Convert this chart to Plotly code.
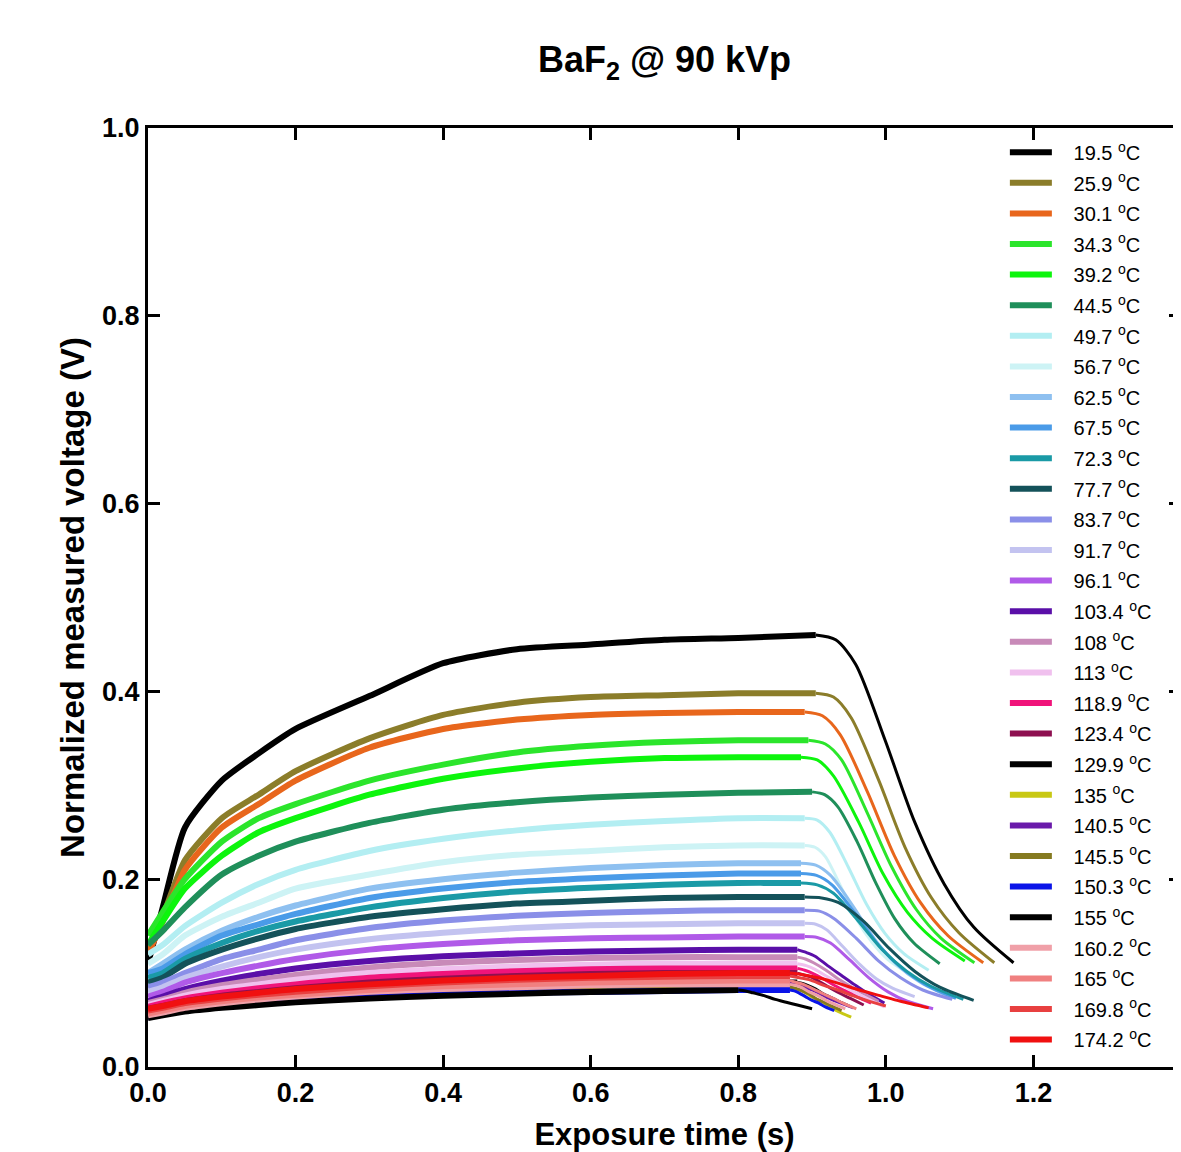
import plotly.graph_objects as go

# sample times for the noisy (exposure) part, shared by all curves
t_rise = [0, 0.02, 0.05, 0.1, 0.15, 0.2, 0.3, 0.4, 0.5, 0.6, 0.7, 0.8]

temps = ["19.5", "25.9", "30.1", "34.3", "39.2", "44.5", "49.7", "56.7", "62.5", "67.5",
         "72.3", "77.7", "83.7", "91.7", "96.1", "103.4", "108", "113", "118.9", "123.4",
         "129.9", "135", "140.5", "145.5", "150.3", "155", "160.2", "165", "169.8", "174.2"]

colors = ["#000000", "#8B7D2A", "#E8661C", "#2BE52B", "#0DF50D", "#1F8F5A", "#B3EEF2", "#CDF3F5",
          "#8EC0F0", "#4A9BE8", "#1A9AA6", "#14525A", "#8A8FE8", "#C3C3F0", "#B05AE8", "#5A0FA8",
          "#C88AB8", "#F0C0EE", "#F0147A", "#8E1050", "#000000", "#C8C814", "#6A1AAA", "#857A20",
          "#0A14E8", "#000000", "#F0A0A8", "#F08080", "#E84040", "#F01010"]

# voltage at t_rise for each temperature
rise = [
    [.11, .17, .255, .305, .334, .36, .395, .43, .445, .45, .455, .457],   # 19.5
    [.12, .16, .22, .265, .29, .315, .35, .375, .388, .394, .396, .398],   # 25.9
    [.12, .155, .21, .255, .28, .305, .34, .36, .37, .375, .377, .378],    # 30.1
    [.14, .165, .2, .24, .265, .28, .305, .322, .335, .342, .346, .348],   # 34.3
    [.13, .155, .19, .225, .25, .265, .29, .307, .318, .325, .329, .33],   # 39.2
    [.13, .145, .17, .205, .225, .24, .26, .274, .282, .287, .29, .292],   # 44.5
    [.12, .13, .15, .175, .195, .21, .23, .243, .252, .258, .262, .265],   # 49.7
    [.11, .12, .14, .16, .175, .19, .205, .218, .226, .23, .234, .236],    # 56.7
    [.1, .11, .125, .145, .16, .172, .19, .2, .207, .212, .215, .217],     # 62.5
    [.1, .105, .12, .14, .152, .163, .18, .19, .197, .201, .204, .206],    # 67.5
    [.095, .1, .115, .132, .145, .155, .17, .18, .187, .191, .194, .196],  # 72.3
    [.09, .095, .11, .125, .137, .147, .16, .168, .174, .177, .18, .181],  # 77.7
    [.085, .09, .1, .115, .125, .135, .148, .156, .161, .164, .166, .167], # 83.7
    [.08, .085, .095, .107, .117, .125, .136, .143, .148, .151, .152, .153],  # 91.7
    [.075, .08, .09, .1, .108, .115, .125, .131, .135, .137, .138, .139],  # 96.1
    [.07, .075, .083, .092, .099, .105, .113, .118, .121, .123, .124, .125],  # 103.4
    [.068, .072, .079, .087, .093, .098, .106, .111, .114, .116, .117, .117],  # 108
    [.066, .07, .076, .083, .088, .093, .1, .104, .107, .109, .11, .11],   # 113
    [.064, .068, .073, .079, .084, .088, .095, .099, .102, .104, .105, .105],  # 118.9
    [.062, .065, .07, .076, .08, .084, .09, .094, .097, .099, .1, .1],     # 123.4
    [.058, .06, .064, .068, .072, .075, .08, .083, .086, .088, .089, .09], # 129.9
    [.055, .058, .062, .066, .07, .073, .077, .08, .082, .084, .085, .085],  # 135
    [.057, .06, .064, .069, .073, .076, .081, .085, .087, .089, .09, .09], # 140.5
    [.055, .058, .062, .066, .07, .073, .078, .081, .083, .084, .085, .085],  # 145.5
    [.053, .056, .06, .064, .067, .07, .074, .077, .079, .08, .081, .082], # 150.3
    [.052, .055, .059, .063, .066, .069, .073, .076, .078, .08, .081, .082],  # 155
    [.055, .058, .063, .068, .072, .075, .08, .083, .085, .087, .088, .088],  # 160.2
    [.057, .06, .065, .07, .074, .077, .082, .086, .088, .09, .091, .092], # 165
    [.06, .063, .068, .073, .077, .08, .086, .09, .093, .095, .096, .097], # 169.8
    [.062, .065, .07, .075, .079, .083, .088, .092, .095, .097, .099, .10],  # 174.2
]

# decay after the beam switches off
tail_t = [
    [.905, .932, .959, .999, 1.039, 1.079, 1.119, 1.173],
    [.905, .929, .953, .990, 1.026, 1.062, 1.099, 1.147],
    [.89, .914, .938, .975, 1.011, 1.047, 1.084, 1.132],
    [.895, .918, .94, .974, 1.008, 1.041, 1.075, 1.12],
    [.885, .907, .929, .963, .996, 1.029, 1.063, 1.107],
    [.9, .917, .935, .961, .987, 1.012, 1.038, 1.073],
    [.89, .907, .924, .949, .974, .999, 1.024, 1.058],
    [.89, .904, .918, .939, .96, .981, 1.002, 1.03],
    [.885, .905, .925, .955, .985, 1.015, 1.045, 1.085],
    [.885, .906, .927, .959, .99, 1.022, 1.053, 1.095],
    [.885, .907, .929, .962, .995, 1.028, 1.061, 1.105],
    [.89, .913, .936, .97, 1.005, 1.039, 1.073, 1.119],
    [.89, .91, .93, .96, .99, 1.02, 1.05, 1.09],
    [.89, .905, .92, .942, .965, .987, 1.009, 1.039],
    [.89, .907, .925, .951, .977, 1.003, 1.029, 1.064],
    [.88, .892, .904, .921, .939, .957, .974, .998],
    [.88, .891, .902, .919, .935, .952, .968, .99],
    [.88, .892, .904, .921, .939, .957, .974, .998],
    [.88, .89, .9, .915, .93, .945, .96, .98],
    [.88, .889, .898, .912, .925, .939, .952, .97],
    [.88, .887, .894, .905, .915, .926, .936, .95],
    [.87, .878, .887, .899, .912, .924, .936, .953],
    [.87, .879, .887, .9, .913, .926, .939, .956],
    [.87, .877, .884, .895, .905, .916, .926, .94],
    [.87, .876, .882, .891, .9, .909, .918, .93],
    [.8, .81, .82, .835, .85, .865, .88, .9],
    [.87, .878, .885, .896, .908, .919, .93, .945],
    [.87, .879, .888, .902, .915, .929, .942, .96],
    [.87, .883, .896, .916, .935, .955, .974, 1.0],
    [.87, .889, .908, .936, .964, .992, 1.02, 1.058],
]
tail_v = [
    [.46, .455, .429, .348, .261, .195, .149, .111],
    [.398, .394, .372, .306, .234, .180, .143, .111],
    [.378, .374, .354, .293, .226, .175, .140, .111],
    [.348, .344, .327, .272, .213, .168, .137, .111],
    [.33, .327, .31, .261, .206, .165, .137, .113],
    [.293, .29, .277, .240, .195, .158, .132, .11],
    [.265, .263, .250, .213, .173, .142, .121, .103],
    [.236, .234, .224, .192, .158, .133, .115, .1],
    [.217, .215, .204, .172, .136, .109, .091, .075],
    [.206, .204, .194, .163, .130, .105, .088, .073],
    [.196, .194, .185, .156, .125, .102, .086, .072],
    [.181, .180, .175, .155, .126, .102, .085, .071],
    [.167, .166, .158, .137, .113, .095, .082, .072],
    [.153, .152, .146, .128, .109, .094, .084, .075],
    [.139, .138, .132, .114, .095, .080, .070, .062],
    [.125, .122, .118, .108, .098, .088, .079, .068],
    [.117, .115, .111, .103, .094, .086, .079, .07],
    [.11, .108, .104, .096, .088, .080, .073, .064],
    [.105, .103, .1, .094, .087, .081, .075, .068],
    [.1, .098, .096, .09, .084, .078, .073, .066],
    [.09, .089, .087, .083, .078, .074, .07, .065],
    [.085, .083, .081, .075, .07, .064, .059, .053],
    [.09, .089, .086, .082, .077, .072, .068, .063],
    [.085, .084, .082, .078, .073, .069, .065, .06],
    [.082, .081, .079, .075, .071, .068, .064, .06],
    [.082, .081, .079, .076, .072, .069, .066, .062],
    [.088, .087, .085, .08, .076, .071, .067, .062],
    [.092, .09, .088, .083, .078, .073, .068, .062],
    [.097, .095, .093, .087, .082, .076, .071, .065],
    [.1, .098, .095, .089, .082, .076, .07, .063],
]

FONT = "Arial, Liberation Sans, sans-serif"

fig = go.Figure()
for i in range(len(temps)):
    grp = "g" + str(i)
    fig.add_trace(go.Scatter(
        x=t_rise + [tail_t[i][0]], y=rise[i] + [tail_v[i][0]],
        mode="lines", line=dict(color=colors[i], width=6, shape="spline", smoothing=0.6),
        name="\u00a0\u00a0\u00a0" + temps[i] + " <sup>o</sup>C", legendgroup=grp))
    fig.add_trace(go.Scatter(
        x=tail_t[i], y=tail_v[i], mode="lines",
        line=dict(color=colors[i], width=3, shape="spline", smoothing=0.8),
        legendgroup=grp, showlegend=False))

axis = dict(showline=True, linecolor="black", linewidth=3, mirror="ticks",
            ticks="inside", ticklen=12, tickwidth=3, tickcolor="black",
            showgrid=False, zeroline=False, dtick=0.2, tickformat=".1f",
            tickfont=dict(family=FONT, size=27, color="black", weight="bold"))

fig.update_layout(
    width=1181, height=1152,
    margin=dict(l=140, r=5, t=120, b=93),
    paper_bgcolor="white", plot_bgcolor="white",
    title=dict(text="BaF<sub>2</sub> @ 90 kVp", x=0.5, xref="paper", y=0.955, yanchor="middle",
               font=dict(family=FONT, size=36, color="black", weight="bold")),
    xaxis=dict(axis, range=[0, 1.4],
               title=dict(text="Exposure time (s)", standoff=16,
                          font=dict(family=FONT, size=31, color="black", weight="bold"))),
    yaxis=dict(axis, range=[0, 1.0],
               title=dict(text="Normalized measured voltage (V)", standoff=8,
                          font=dict(family=FONT, size=33, color="black", weight="bold"))),
    legend=dict(x=0.8295, y=0.995, xanchor="left", yanchor="top", bgcolor="rgba(0,0,0,0)",
                font=dict(family=FONT, size=20, color="black"), tracegroupgap=1.6,
                itemwidth=42),
    showlegend=True,
)

fig.write_html("out.html")
